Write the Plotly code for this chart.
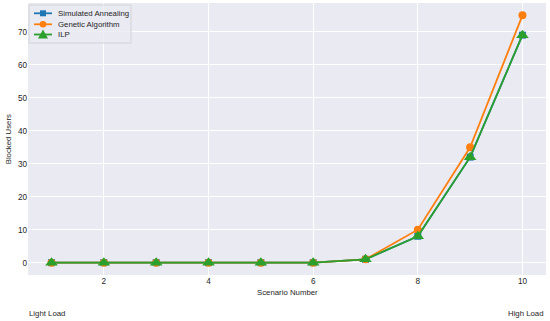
import plotly.graph_objects as go

scenarios = [1, 2, 3, 4, 5, 6, 7, 8, 9, 10]
sa = [0, 0, 0, 0, 0, 0, 1, 8, 32, 69]
ga = [0, 0, 0, 0, 0, 0, 1, 10, 35, 75]
ilp = [0, 0, 0, 0, 0, 0, 1, 8, 32, 69]
series_names = ["Simulated Annealing", "Genetic Algorithm", "ILP"]
colors = ["#1f77b4", "#ff7f0e", "#2ca02c"]
symbols = ["square", "circle", "triangle-up"]
sizes = [7, 8, 11]

W, H = 550, 321
ML, MR, MT, MB = 28, 4, 3, 46
PW, PH = W - ML - MR, H - MT - MB
FS = 7.8
TXT = "#262626"


def px(x):
    return (x - ML) / PW


def py(y):
    return (H - MB - y) / PH


fig = go.Figure()
for name, vals, c, s, sz in zip(series_names, [sa, ga, ilp], colors, symbols, sizes):
    fig.add_trace(go.Scatter(x=scenarios, y=vals, mode="lines+markers", name=name,
                             line=dict(color=c, width=1.8),
                             marker=dict(symbol=s, size=sz, color=c)))

# compact matplotlib-style legend built from shapes + text
shapes = [dict(type="rect", xref="paper", yref="paper", x0=px(29), x1=px(131), y0=py(43), y1=py(5),
               fillcolor="rgba(234,234,242,0.8)", line=dict(color="#d2d2d8", width=1), layer="above")]
annotations = []
row_y = [13.3, 24.3, 34.5]
for i, (name, c) in enumerate(zip(series_names, colors)):
    yy = row_y[i]
    shapes.append(dict(type="line", xref="paper", yref="paper", x0=px(34), x1=px(52),
                       y0=py(yy), y1=py(yy), line=dict(color=c, width=1.8), layer="above"))
    cx = 43
    if i == 0:
        shapes.append(dict(type="rect", xref="paper", yref="paper", x0=px(cx - 3), x1=px(cx + 3),
                           y0=py(yy + 3), y1=py(yy - 3), fillcolor=c, line=dict(width=0), layer="above"))
    elif i == 1:
        shapes.append(dict(type="circle", xref="paper", yref="paper", x0=px(cx - 3.3), x1=px(cx + 3.3),
                           y0=py(yy + 3.3), y1=py(yy - 3.3), fillcolor=c, line=dict(width=0), layer="above"))
    else:
        path = "M {} {} L {} {} L {} {} Z".format(px(cx - 5), py(yy + 4), px(cx + 5), py(yy + 4),
                                                 px(cx), py(yy - 5))
        shapes.append(dict(type="path", xref="paper", yref="paper", path=path, fillcolor=c,
                           line=dict(width=0), layer="above"))
    annotations.append(dict(text=name, xref="paper", yref="paper", x=px(55.5), y=py(yy),
                            xanchor="left", yanchor="middle", showarrow=False,
                            font=dict(size=FS, color=TXT)))

annotations += [
    dict(text="Scenario Number", xref="paper", yref="paper", x=0.5, y=-0.063,
         xanchor="center", yanchor="middle", showarrow=False, font=dict(size=FS, color=TXT)),
    dict(text="Blocked Users", xref="paper", yref="paper", x=-0.038, y=0.5, textangle=-90,
         xanchor="center", yanchor="middle", showarrow=False, font=dict(size=FS, color=TXT)),
    dict(text="Light Load", xref="paper", yref="paper", x=-0.002, y=-0.14,
         xanchor="left", yanchor="middle", showarrow=False, font=dict(size=FS, color=TXT)),
    dict(text="High Load", xref="paper", yref="paper", x=1.0, y=-0.14,
         xanchor="right", yanchor="middle", showarrow=False, font=dict(size=FS, color=TXT)),
]

font = "Liberation Sans, Arial, sans-serif"
fig.update_layout(
    width=W, height=H,
    margin=dict(l=ML, r=MR, t=MT, b=MB, autoexpand=False),
    paper_bgcolor="white",
    plot_bgcolor="#EAEAF2",
    font=dict(family=font, size=FS, color=TXT),
    showlegend=False,
    xaxis=dict(range=[0.55, 10.45], tickvals=[2, 4, 6, 8, 10], showgrid=True, automargin=False,
               gridcolor="white", gridwidth=1, zeroline=False, showline=False, ticks="",
               tickfont=dict(size=8.2, color=TXT)),
    yaxis=dict(range=[-3.75, 78.75], tickvals=[0, 10, 20, 30, 40, 50, 60, 70], showgrid=True,
               automargin=False,
               gridcolor="white", gridwidth=1, zeroline=False, showline=False, ticks="",
               tickfont=dict(size=8.2, color=TXT)),
    shapes=shapes,
    annotations=annotations,
)

fig.write_html("out.html", config={"displayModeBar": False},
               post_script="document.body.style.margin='0';")
